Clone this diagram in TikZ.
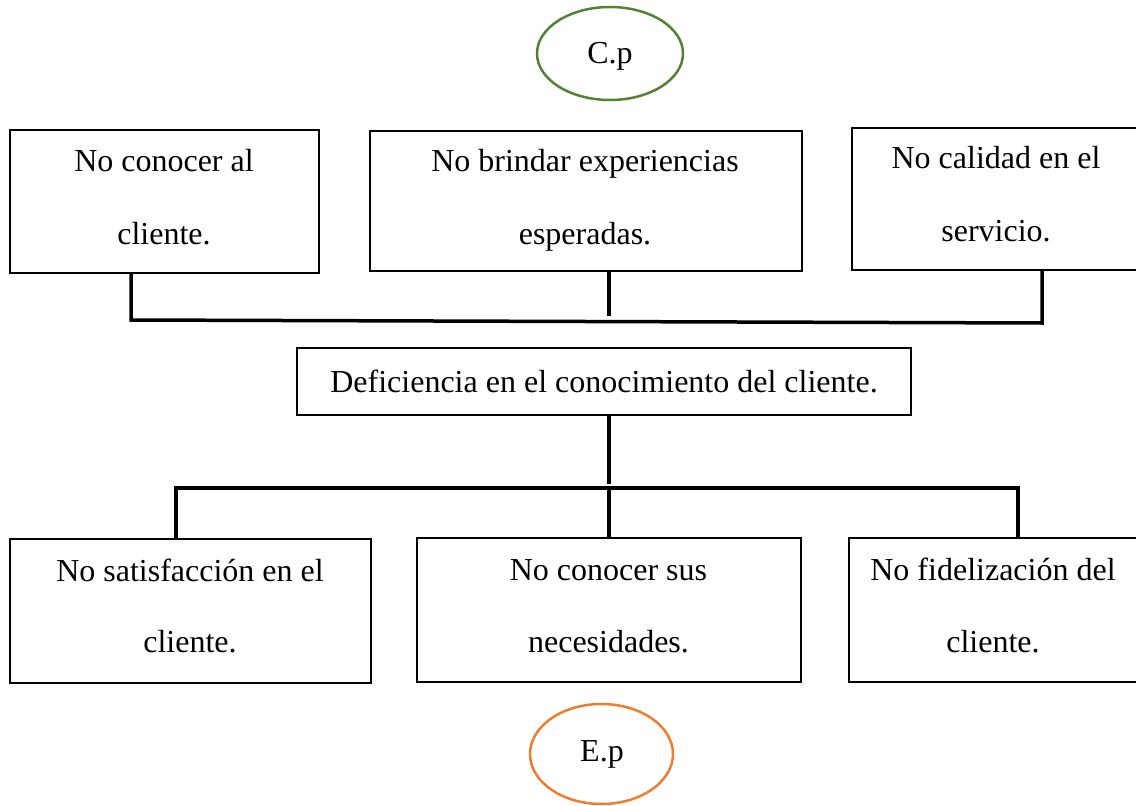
\documentclass[tikz,border=0pt]{standalone}
\usepackage{fontspec}
\setmainfont{Liberation Serif}
\usetikzlibrary{shapes.geometric}
\definecolor{cpgreen}{HTML}{548235}
\definecolor{eporange}{HTML}{ED7D31}
\tikzset{
  boxnode/.style={draw=black, line width=2pt, rectangle, inner sep=0pt, fill=white},
  txt/.style={anchor=base, inner sep=0pt, font=\fontsize{32}{38}\selectfont},
  conn/.style={draw=black, line width=3.5pt},
  ovalnode/.style={ellipse, line width=2.5pt, inner sep=0pt},
}
\begin{document}
\begin{tikzpicture}[x=1pt,y=-1pt]
\useasboundingbox (0,0) rectangle (1136,806);
% ellipses
\node[ovalnode, draw=cpgreen, minimum width=146pt, minimum height=93pt] (cp) at (610,53.5) {};
\node[txt] (cpt) at (610,63) {C.p};
\node[ovalnode, draw=eporange, minimum width=143pt, minimum height=100pt] (ep) at (601.5,754) {};
\node[txt] (ept) at (602,761) {E.p};
% top boxes
\node[boxnode, minimum width=309pt, minimum height=143pt] (b1) at (164.5,201.5) {};
\node[boxnode, minimum width=432pt, minimum height=140pt] (b2) at (586,201) {};
\node[boxnode, minimum width=285pt, minimum height=142pt] (b3) at (994.5,199) {};
\node[txt] (b1a) at (164,171) {No conocer al};
\node[txt] (b1b) at (164,244) {cliente.};
\node[txt] (b2a) at (585,171) {No brindar experiencias};
\node[txt] (b2b) at (585,244) {esperadas.};
\node[txt] (b3a) at (996,168) {No calidad en el};
\node[txt] (b3b) at (996,241) {servicio.};
% middle box
\node[boxnode, minimum width=614pt, minimum height=67pt] (m) at (604,381.5) {};
\node[txt] (mt) at (604,392) {Deficiencia en el conocimiento del cliente.};
% bottom boxes
\node[boxnode, minimum width=361pt, minimum height=144pt] (b4) at (190.5,611) {};
\node[boxnode, minimum width=384pt, minimum height=144pt] (b5) at (609,610) {};
\node[boxnode, minimum width=288pt, minimum height=144pt] (b6) at (993,610) {};
\node[txt] (b4a) at (190,581) {No satisfacción en el};
\node[txt] (b4b) at (190,652) {cliente.};
\node[txt] (b5a) at (608.5,580) {No conocer sus};
\node[txt] (b5b) at (608.5,652) {necesidades.};
\node[txt] (b6a) at (993,580) {No fidelización del};
\node[txt] (b6b) at (993,652) {cliente.};
% connector points
\coordinate (tl) at (131,320);
\coordinate (tr) at (1042,323);
\coordinate (tm) at (609,316);
\coordinate (mm) at (609,484);
\coordinate (bl) at (176,488);
\coordinate (br) at (1018,488);
\coordinate (bm) at (609,487);
% connectors
\draw[conn] (b1.south -| tl) -- (tl) -- (tr) -- (b3.south -| tr);
\draw[conn] (b2.south -| tm) -- (tm);
\draw[conn] (m.south -| mm) -- (mm);
\draw[conn] (b4.north -| bl) -- (bl) -- (br) -- (b6.north -| br);
\draw[conn] (bm) -- (b5.north);
\end{tikzpicture}
\end{document}
